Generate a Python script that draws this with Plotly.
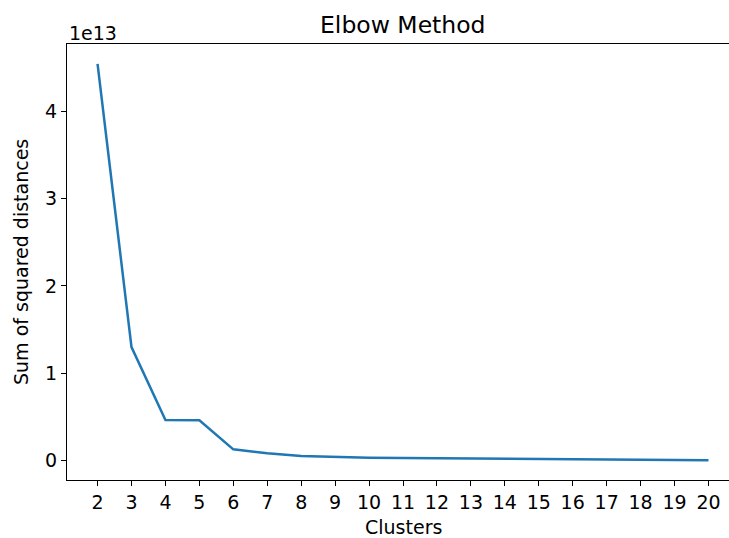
import plotly.graph_objects as go

clusters = list(range(2, 21))
sse = [4.543e13, 1.301e13, 0.465e13, 0.463e13, 0.130e13, 0.084e13, 0.054e13,
       0.042e13, 0.034e13, 0.031e13, 0.027e13, 0.024e13, 0.021e13, 0.018e13,
       0.015e13, 0.012e13, 0.010e13, 0.008e13, 0.006e13]
ytick_vals = [0, 1e13, 2e13, 3e13, 4e13]
ytick_text = ["0", "1", "2", "3", "4"]
xtick_vals = clusters

FONT = "DejaVu Sans"
FS = 19

fig = go.Figure()
fig.add_trace(go.Scatter(x=clusters, y=sse, mode="lines",
                         line=dict(color="#1f77b4", width=2.5)))

fig.update_layout(
    width=729, height=538,
    margin=dict(l=67, r=0, t=44, b=58),
    paper_bgcolor="white", plot_bgcolor="white",
    showlegend=False,
    font=dict(family=FONT, size=FS, color="black"),
    xaxis=dict(range=[1.1, 20.605], tickvals=xtick_vals,
               showgrid=False, zeroline=False,
               showline=True, linecolor="black", linewidth=1.2, mirror=True,
               ticks="outside", ticklen=5, tickwidth=1.2, tickcolor="black",
               tickfont=dict(family=FONT, size=FS, color="black")),
    yaxis=dict(range=[-0.221e13, 4.77e13], tickvals=ytick_vals, ticktext=ytick_text,
               showgrid=False, zeroline=False,
               showline=True, linecolor="black", linewidth=1.2, mirror=False,
               ticks="outside", ticklen=5, tickwidth=1.2, tickcolor="black",
               tickfont=dict(family=FONT, size=FS, color="black")),
    annotations=[
        dict(text="Elbow Method", xref="paper", yref="paper", x=0.5076, y=1,
             xanchor="center", yanchor="bottom", yshift=3, showarrow=False,
             font=dict(family=FONT, size=23.5, color="black")),
        dict(text="1e13", xref="paper", yref="paper", x=0, y=1,
             xanchor="left", yanchor="bottom", yshift=-2, showarrow=False,
             font=dict(family=FONT, size=FS, color="black")),
        dict(text="Clusters", xref="paper", yref="paper", x=0.5076, y=0,
             xanchor="center", yanchor="top", yshift=-34, showarrow=False,
             font=dict(family=FONT, size=FS, color="black")),
        dict(text="Sum of squared distances", xref="paper", yref="paper", x=0, y=0.5,
             xanchor="right", yanchor="middle", xshift=-33, textangle=-90, showarrow=False,
             font=dict(family=FONT, size=FS, color="black")),
    ],
)

fig.write_html("out.html")
